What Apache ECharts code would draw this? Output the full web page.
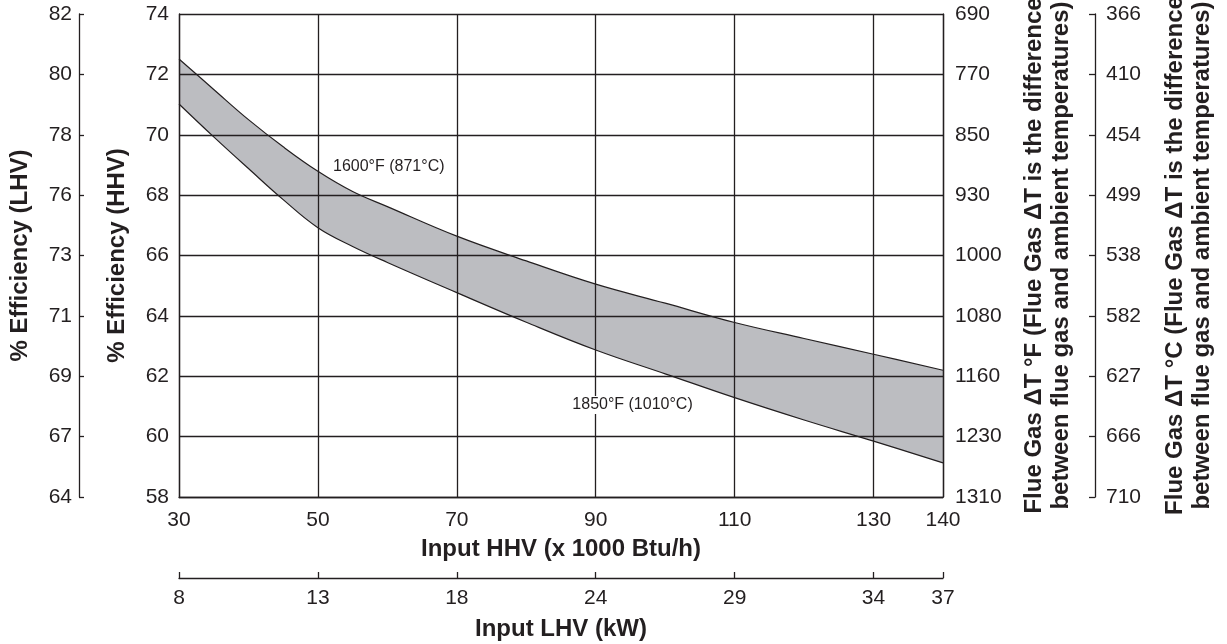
<!DOCTYPE html>
<html>
<head>
<meta charset="utf-8">
<script src="https://cdn.jsdelivr.net/npm/echarts@6/dist/echarts.min.js"></script>
<style>
html,body{margin:0;padding:0;background:#fff;}
#chart{width:1227px;height:644px;}
</style>
</head>
<body>
<div id="chart"></div>
<script>
// ---- data ----
const inputHHV = [30, 35, 40, 45, 50, 55, 60, 70, 80, 90, 100, 110, 120, 130, 140];
const eff1600F = [72.51, 71.5, 70.5, 69.6, 68.79, 68.12, 67.62, 66.64, 65.82, 65.05, 64.42, 63.78, 63.25, 62.73, 62.2];
const eff1850F = [71.02, 69.93, 68.88, 67.85, 66.92, 66.3, 65.77, 64.77, 63.79, 62.87, 62.08, 61.29, 60.55, 59.85, 59.13];

const hhvTicks = [30, 50, 70, 90, 110, 130, 140];
const lhvKwLabels = ['8', '13', '18', '24', '29', '34', '37'];
const effHHVTicks = [58, 60, 62, 64, 66, 68, 70, 72, 74];
const effLHVLabels = ['64', '67', '69', '71', '73', '76', '78', '80', '82'];
const flueFLabels = ['1310', '1230', '1160', '1080', '1000', '930', '850', '770', '690'];
const flueCLabels = ['710', '666', '627', '582', '538', '499', '454', '410', '366'];

const curveLabels = ['1600°F (871°C)', '1850°F (1010°C)'];
const curveLabelAnchors = [[60.2, 68.95], [95.3, 61.05]];

// ---- chart ----
const INK = '#231f20';
const FONT = '"Liberation Sans", Arial, Helvetica, sans-serif';
const chart = echarts.init(document.getElementById('chart'));

function mapLabel(list, ticks) {
  return function (v) {
    const i = ticks.findIndex(t => Math.abs(t - v) < 1e-6);
    return i >= 0 ? list[i] : '';
  };
}

const tickFont = { fontSize: 21, color: INK, fontFamily: FONT };
const titleFont = { fontSize: 24, fontWeight: 'bold', color: INK, fontFamily: FONT, lineHeight: 27 };
const line = { color: INK, width: 1.3 };

const option = {
  animation: false,
  backgroundColor: '#fff',
  textStyle: { fontFamily: FONT, color: INK },
  grid: { left: 179, right: 284, top: 14, bottom: 147, containLabel: false, outerBoundsMode: 'none' },
  xAxis: [
    {
      type: 'value', min: 30, max: 140, interval: 20, position: 'bottom', z: 5,
      axisLine: { show: true, lineStyle: line },
      axisTick: { show: false },
      axisLabel: Object.assign({ margin: 13, showMinLabel: true, showMaxLabel: true,
        formatter: mapLabel(hhvTicks.map(String), hhvTicks) }, tickFont),
      splitLine: { show: true, lineStyle: line },
      name: 'Input HHV (x 1000 Btu/h)', nameLocation: 'middle', nameGap: 35, nameTextStyle: titleFont
    },
    {
      type: 'value', min: 30, max: 140, interval: 20, position: 'bottom', offset: 81, z: 5,
      axisLine: { show: true, lineStyle: line },
      axisTick: { show: true, inside: true, length: 6, lineStyle: line },
      axisLabel: Object.assign({ margin: 10, showMinLabel: true, showMaxLabel: true,
        formatter: mapLabel(lhvKwLabels, hhvTicks) }, tickFont),
      splitLine: { show: false },
      name: 'Input LHV (kW)', nameLocation: 'middle', nameGap: 38, nameTextStyle: titleFont
    }
  ],
  yAxis: [
    {
      type: 'value', min: 58, max: 74, interval: 2, position: 'left', z: 5,
      axisLine: { show: true, lineStyle: line },
      axisTick: { show: false },
      axisLabel: Object.assign({ margin: 10, formatter: mapLabel(effHHVTicks.map(String), effHHVTicks) }, tickFont),
      splitLine: { show: true, lineStyle: line },
      name: '% Efficiency (HHV)', nameLocation: 'middle', nameGap: 48, nameRotate: 90, nameTextStyle: titleFont
    },
    {
      type: 'value', min: 58, max: 74, interval: 2, position: 'left', offset: 100, z: 5,
      axisLine: { show: true, lineStyle: line },
      axisTick: { show: true, inside: true, length: 5, lineStyle: line },
      axisLabel: Object.assign({ margin: 7, formatter: mapLabel(effLHVLabels, effHHVTicks) }, tickFont),
      splitLine: { show: false },
      name: '% Efficiency (LHV)', nameLocation: 'middle', nameGap: 45, nameRotate: 90, nameTextStyle: titleFont
    },
    {
      type: 'value', min: 58, max: 74, interval: 2, position: 'right', z: 5,
      axisLine: { show: true, lineStyle: line },
      axisTick: { show: false },
      axisLabel: Object.assign({ margin: 12, formatter: mapLabel(flueFLabels, effHHVTicks) }, tickFont),
      splitLine: { show: false },
      name: 'Flue Gas ΔT °F (Flue Gas ΔT is the difference\nbetween flue gas and ambient temperatures)',
      nameLocation: 'middle', nameGap: 78, nameRotate: 90, nameTextStyle: titleFont
    },
    {
      type: 'value', min: 58, max: 74, interval: 2, position: 'right', offset: 152, z: 5,
      axisLine: { show: true, lineStyle: line },
      axisTick: { show: true, inside: true, length: 6, lineStyle: line },
      axisLabel: Object.assign({ margin: 11, formatter: mapLabel(flueCLabels, effHHVTicks) }, tickFont),
      splitLine: { show: false },
      name: 'Flue Gas ΔT °C (Flue Gas ΔT is the difference\nbetween flue gas and ambient temperatures)',
      nameLocation: 'middle', nameGap: 67, nameRotate: 90, nameTextStyle: titleFont
    }
  ],
  series: [
    {
      name: '1600°F', type: 'line', xAxisIndex: 0, yAxisIndex: 0,
      data: inputHHV.map((x, i) => [x, eff1600F[i]]),
      symbol: 'none', smooth: 0.4, z: 2,
      lineStyle: { color: INK, width: 1.2 },
      areaStyle: { color: '#bcbdc1', opacity: 1, origin: 'start' }
    },
    {
      name: '1850°F', type: 'line', xAxisIndex: 0, yAxisIndex: 0,
      data: inputHHV.map((x, i) => [x, eff1850F[i]]),
      symbol: 'none', smooth: 0.4, z: 3,
      lineStyle: { color: INK, width: 1.2 },
      areaStyle: { color: '#ffffff', opacity: 1, origin: 'start' }
    },
    {
      name: 'labels', type: 'custom', xAxisIndex: 0, yAxisIndex: 0, z: 10, silent: true,
      data: curveLabelAnchors,
      renderItem: function (params, api) {
        const p = api.coord([api.value(0), api.value(1)]);
        return {
          type: 'text', x: p[0], y: p[1], z2: 100,
          style: {
            text: curveLabels[params.dataIndex], fill: INK,
            font: '16px "Liberation Sans", Arial, sans-serif',
            align: 'center', verticalAlign: 'middle',
            backgroundColor: '#fff', padding: [1, 2]
          }
        };
      }
    }
  ]
};
chart.setOption(option);
</script>
</body>
</html>
